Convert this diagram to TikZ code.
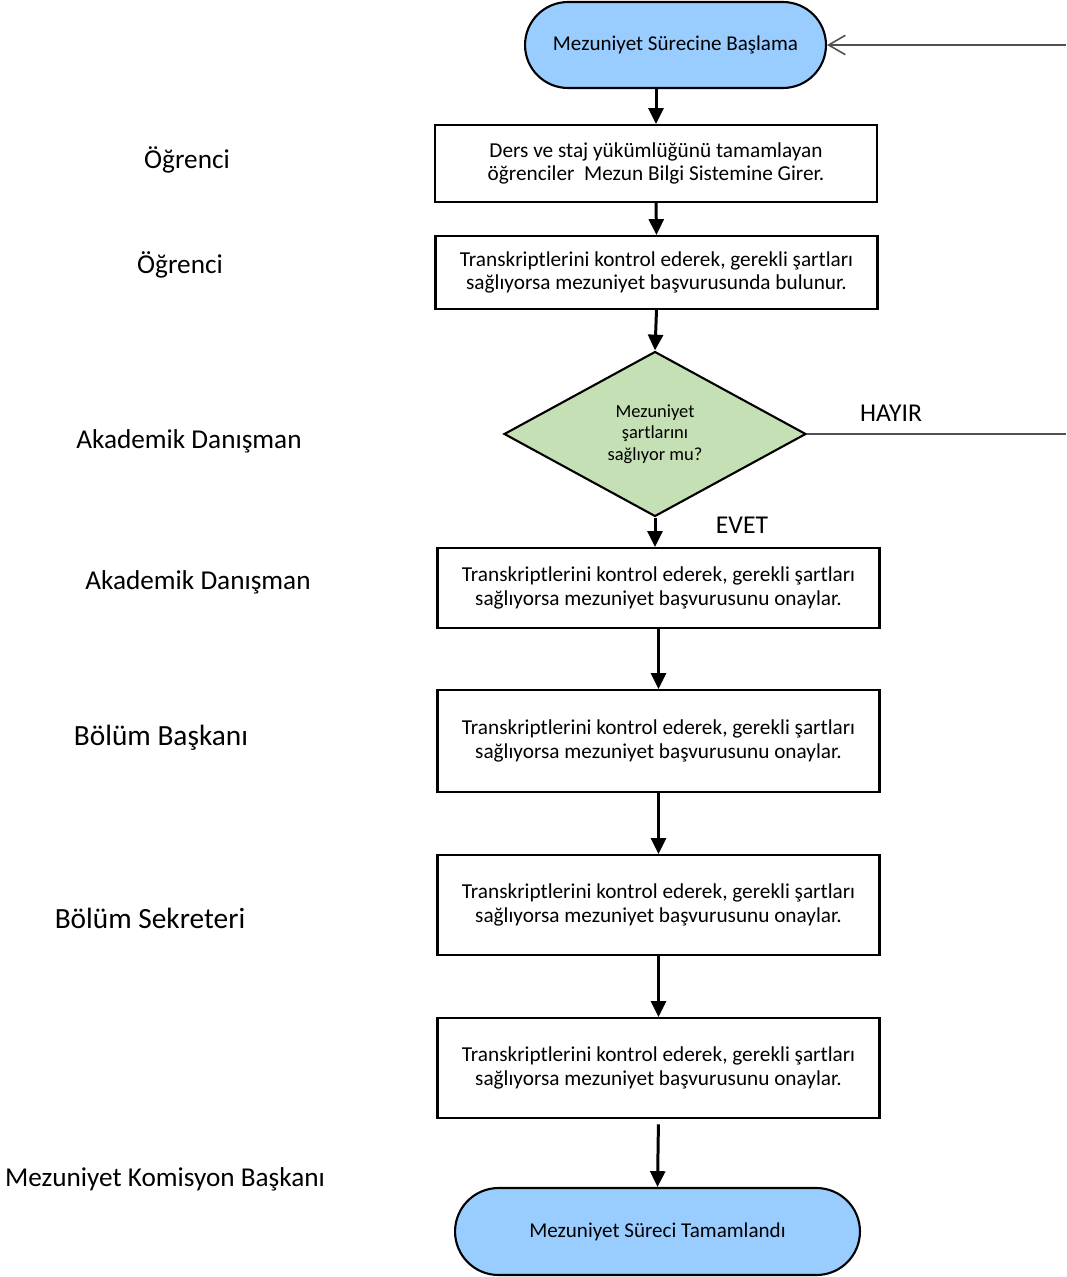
\documentclass[tikz,border=0pt]{standalone}
\usepackage{fontspec}
\setmainfont{Carlito}
\usepackage{tikz}
\usetikzlibrary{arrows.meta}
\usetikzlibrary{shapes.geometric,shapes.misc}
\tikzset{>={Triangle[length=9pt,width=8.5pt]}}
\usepackage{xcolor}
\definecolor{mybluefill}{HTML}{99CCFF}
\definecolor{mygreenfill}{HTML}{C5E0B4}
\definecolor{mylinegray}{HTML}{505050}

\tikzset{
  terminal/.style={rounded rectangle,draw,line width=1.2pt,fill=mybluefill,inner sep=0pt,font=\fontsize{12}{14}\selectfont},
  stepbox/.style={rectangle,draw,line width=1.2pt,fill=white,minimum width=8.84cm,inner sep=0pt,align=center,font=\fontsize{12.1}{13.4}\selectfont},
  decision/.style={diamond,draw,line width=1.2pt,fill=mygreenfill,minimum width=6.04cm,minimum height=3.3cm,inner sep=0pt,align=center,font=\fontsize{10.5}{12.3}\selectfont},
  flow/.style={->,line width=1.7pt},
  thinline/.style={line width=0.9pt,color=mylinegray},
  actor/.style={font=\fontsize{15.5}{18}\selectfont},
  bigactor/.style={font=\fontsize{16.7}{19}\selectfont},
  answer/.style={font=\fontsize{14.6}{17}\selectfont}
}

\begin{document}
\begin{tikzpicture}[x=0.02cm,y=-0.02cm]
        \useasboundingbox (0,0) rectangle (1066,1277);

        % COORDINATES
        \coordinate (loopIn) at (1066,45);
        \coordinate (hayirEnd) at (1066,434);

        % FLOW
        \node[terminal,minimum width=6.02cm,minimum height=1.72cm] (start) at (675.5,45) {Mezuniyet Sürecine Başlama};
        \node[stepbox,minimum height=1.54cm] (b1) at (656,163.5) {Ders ve staj yükümlüğünü tamamlayan\\öğrenciler~ Mezun Bilgi Sistemine Girer.};
        \node[stepbox,minimum height=1.46cm] (b2) at (656.5,272.5) {Transkriptlerini kontrol ederek, gerekli şartları\\sağlıyorsa mezuniyet başvurusunda bulunur.};
        \node[decision] (dec) at (655,434) {Mezuniyet\\şartlarını\\sağlıyor mu?};
        \node[stepbox,minimum height=1.6cm] (b3) at (658.5,588) {Transkriptlerini kontrol ederek, gerekli şartları\\sağlıyorsa mezuniyet başvurusunu onaylar.};
        \node[stepbox,minimum height=2.04cm] (b4) at (658.5,741) {Transkriptlerini kontrol ederek, gerekli şartları\\sağlıyorsa mezuniyet başvurusunu onaylar.};
        \node[stepbox,minimum height=2cm] (b5) at (658.5,905) {Transkriptlerini kontrol ederek, gerekli şartları\\sağlıyorsa mezuniyet başvurusunu onaylar.};
        \node[stepbox,minimum height=2cm] (b6) at (658.5,1068) {Transkriptlerini kontrol ederek, gerekli şartları\\sağlıyorsa mezuniyet başvurusunu onaylar.};
        \node[terminal,minimum width=8.1cm,minimum height=1.74cm] (end) at (657.5,1231.5) {Mezuniyet Süreci Tamamlandı};

        % ACTORS
        \node[actor] (a1) at (187,160) {Öğrenci};
        \node[actor] (a2) at (180,265) {Öğrenci};
        \node[actor] (a3) at (189,441) {Akademik Danışman};
        \node[actor] (a4) at (198,582) {Akademik Danışman};
        \node[bigactor] (a5) at (161,738) {Bölüm Başkanı};
        \node[bigactor] (a6) at (150,918) {Bölüm Sekreteri};
        \node[actor] (a7) at (165,1179) {Mezuniyet Komisyon Başkanı};

        % ARROWS
        \draw[flow] (b1.north |- start.south) -- (b1.north);
        \draw[flow] (b1.south) -- (b2.north);
        \draw[flow] (b2.south) -- (dec.north);
        \draw[flow] (dec.south) -- (dec.south |- b3.north);
        \draw[flow] (b3.south) -- (b4.north);
        \draw[flow] (b4.south) -- (b5.north);
        \draw[flow] (b5.south) -- (b6.north);
        \draw[flow,shorten <=3pt] (b6.south) -- (end.north);

        % RETURN LINE
        \draw[thinline] (dec.east) -- (hayirEnd);
        \draw[thinline,-{Straight Barb[length=9.5pt,width=11pt]}] (loopIn) -- (start.east);
        \node[answer] (hayir) at (891,413) {HAYIR};
        \node[answer] (evet) at (742,525) {EVET};

    \end{tikzpicture}
\end{document}
